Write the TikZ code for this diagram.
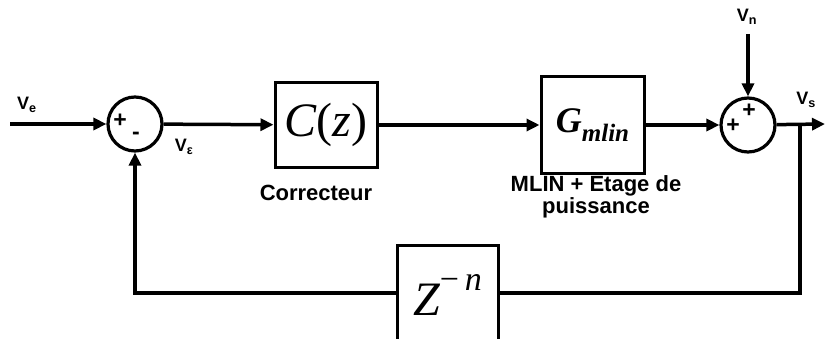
\documentclass[tikz,border=0pt]{standalone}
\usepackage{fontspec}
\setmainfont{Liberation Sans}
\newfontfamily\timesfont{Liberation Serif}
\usetikzlibrary{arrows.meta, positioning}

\begin{document}
\begin{tikzpicture}[
  x=1pt, y=1pt,
  line width=3.5pt,
  >={Triangle[length=13pt,width=12pt]},
  block/.style={draw, rectangle, inner sep=0pt, line width=3pt},
  sumnode/.style={draw, circle, minimum size=54pt, inner sep=0pt, line width=3.2pt},
  lbl/.style={font=\bfseries\fontsize{22}{19}\selectfont, align=center, inner sep=0pt},
  sig/.style={font=\bfseries\fontsize{18}{20}\selectfont, inner sep=0pt},
  sgn/.style={font=\bfseries\fontsize{23}{23}\selectfont, inner sep=0pt},
  ->
]
\useasboundingbox (0,0) rectangle (825,338);
\clip (0,0) rectangle (825,338);

% blocks of the loop
\node[sumnode] (sum1) at (135,214) {};
\node[block, minimum width=102pt, minimum height=85pt] (corr) at (326,213)
  {\timesfont\fontsize{48}{50}\selectfont\textit{C}(\textit{z})};
\node[block, minimum width=103pt, minimum height=96pt] (gmlin) at (592.5,213)
  {\timesfont\bfseries\itshape\fontsize{36}{38}\selectfont G\raisebox{-9pt}{\fontsize{25}{25}\selectfont mlin}};
\node[sumnode] (sum2) at (748,213) {};
\node[block, minimum width=101pt, minimum height=100pt] (delay) at (447.5,43)
  {\timesfont\itshape\fontsize{48}{50}\selectfont Z\raisebox{25pt}{\fontsize{34}{34}\selectfont \upshape\textminus\,\itshape n}};

\coordinate (vein) at (10,214);
\coordinate (vnin) at (748,304);
\coordinate (vsout) at (825,214);
\coordinate (split) at (800,214);
\coordinate (splitlow) at (800,45);
\coordinate (fbcorner) at (135,45);

% signs in the summers
\node[sgn] at ([xshift=-15pt, yshift=3pt]sum1.center) {+};
\node[sgn] at ([xshift=1pt, yshift=-12pt]sum1.center) {-};
\node[sgn] at ([xshift=-15pt, yshift=-1pt]sum2.center) {+};
\node[sgn] at ([xshift=1pt, yshift=14pt]sum2.center) {+};

% signal labels
\node[sig] (ve) at (27,233) {V\textsubscript{e}};
\node[sig] (veps) at (184,191) {V\textsubscript{ε}};
\node[sig] (vn) at (747,321) {V\textsubscript{n}};
\node[sig] (vs) at (806,238) {V\textsubscript{s}};
\node[lbl, anchor=base] (corrtxt) at (316,138) {Correcteur};
\node[lbl, anchor=base] (gtxt) at (596,125) {MLIN + Etage de\\puissance};

% connectors
\draw (vein) -- (sum1);
\draw (sum1) -- (corr);
\draw (corr) -- (gmlin);
\draw (gmlin) -- (sum2);
\draw (vnin) -- (sum2);
\draw (sum2) -- (vsout);
\draw[-] (split) -- (splitlow) -- (delay.east |- splitlow);
\draw (delay.west |- fbcorner) -- (fbcorner) -- (sum1);
\end{tikzpicture}
\end{document}
